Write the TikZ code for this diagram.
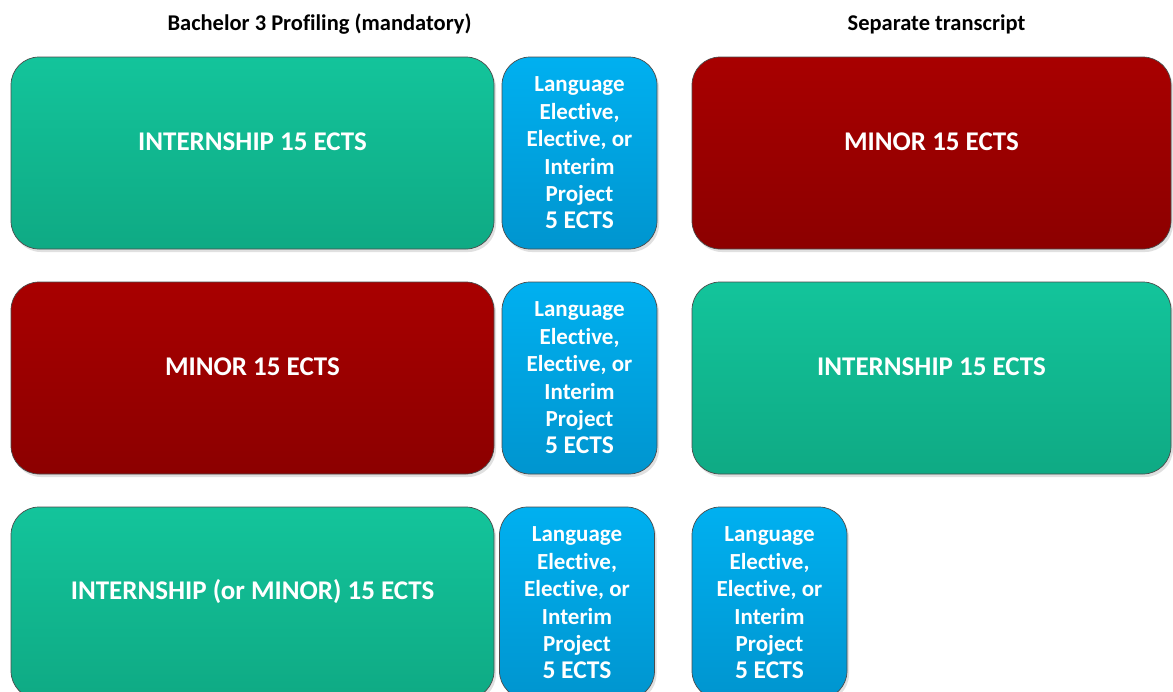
\documentclass[tikz,border=0pt]{standalone}
\usepackage{fontspec}
\setmainfont{Carlito}[Ligatures={NoCommon}]
\usetikzlibrary{shadows}
\newcommand{\ectsline}{{\fontsize{25.5}{29}\selectfont 5 ECTS}}
\tikzset{
  box/.style={rounded corners=28pt, draw=black!70, line width=0.7pt, inner sep=0pt,
    drop shadow={shadow xshift=2pt, shadow yshift=-3pt, fill=black!12, opacity=1}},
  greenbox/.style={box, top color=green1, bottom color=green2},
  redbox/.style={box, top color=red1, bottom color=red2},
  bluebox/.style={box, top color=blue1, bottom color=blue2},
  big/.style={minimum width=483pt, minimum height=192pt},
  small/.style={minimum width=155pt, minimum height=192pt},
  bigtext/.style={text=white, font=\fontsize{27}{32}\selectfont\bfseries},
  smalltext/.style={text=white, align=center, font=\fontsize{23}{27.4}\selectfont\bfseries},
  head/.style={text=black, font=\fontsize{22.5}{26}\selectfont\bfseries}
}
\definecolor{green1}{HTML}{13C49B}
\definecolor{green2}{HTML}{0FAA84}
\definecolor{red1}{HTML}{A80000}
\definecolor{red2}{HTML}{8C0000}
\definecolor{blue1}{HTML}{00B0F0}
\definecolor{blue2}{HTML}{0095CF}
\begin{document}
\begin{tikzpicture}[x=1pt,y=-1pt]
\useasboundingbox (0,0) rectangle (1173,691);
\fill[white] (0,0) rectangle (1173,691);
\node[head] (h1) at (319.5,24) {Bachelor 3 Profiling (mandatory)};
\node[head] (h2) at (936.5,24) {Separate transcript};
% row 1
\node[greenbox,big] (g1) at (252.5,153) {};
\node[bigtext] (tg1) at ([yshift=11pt]g1.center) {INTERNSHIP 15 ECTS};
\node[bluebox,small] (b1) at (579.5,153) {};
\node[smalltext] (tb1) at (b1.center) {Language\\Elective,\\Elective, or\\Interim\\Project\\\ectsline};
\node[redbox,minimum width=479pt,minimum height=192pt] (r1) at (931.5,153) {};
\node[bigtext] (tr1) at ([yshift=11pt]r1.center) {MINOR 15 ECTS};
% row 2
\node[redbox,big] (r2) at (252.5,378) {};
\node[bigtext] (tr2) at ([yshift=11pt]r2.center) {MINOR 15 ECTS};
\node[bluebox,small] (b2) at (579.5,378) {};
\node[smalltext] (tb2) at (b2.center) {Language\\Elective,\\Elective, or\\Interim\\Project\\\ectsline};
\node[greenbox,minimum width=479pt,minimum height=192pt] (g2) at (931.5,378) {};
\node[bigtext] (tg2) at ([yshift=11pt]g2.center) {INTERNSHIP 15 ECTS};
% row 3
\node[greenbox,big] (g3) at (252.5,603) {};
\node[bigtext] (tg3) at ([yshift=11pt]g3.center) {INTERNSHIP (or MINOR) 15 ECTS};
\node[bluebox,small] (b3) at (577,603) {};
\node[smalltext] (tb3) at (b3.center) {Language\\Elective,\\Elective, or\\Interim\\Project\\\ectsline};
\node[bluebox,small] (b4) at (769.5,603) {};
\node[smalltext] (tb4) at (b4.center) {Language\\Elective,\\Elective, or\\Interim\\Project\\\ectsline};
\end{tikzpicture}
\end{document}
